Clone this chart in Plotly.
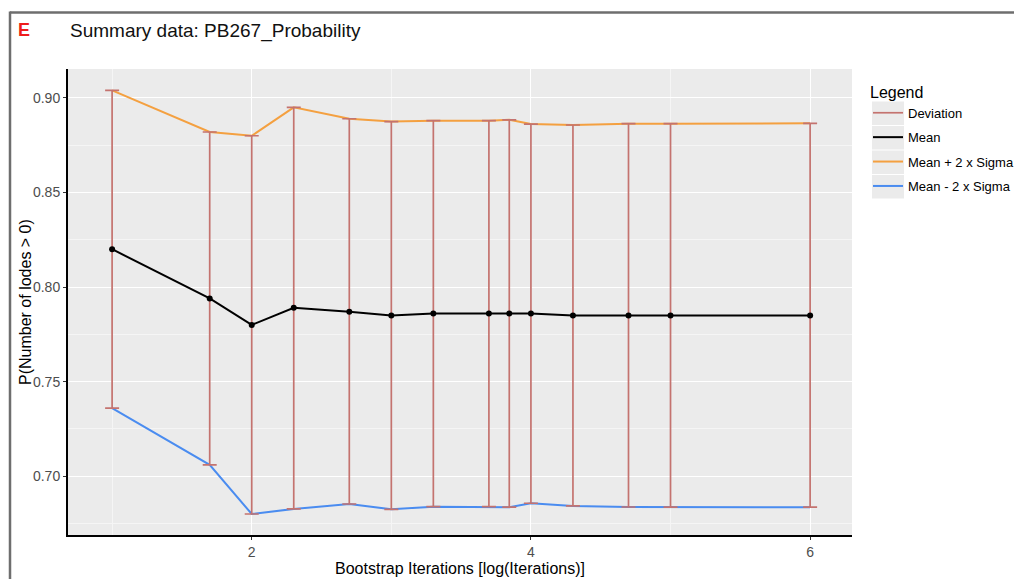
import plotly.graph_objects as go

# Bootstrap summary: x positions are log10(iterations)
log_iterations = [1.0, 1.699, 2.0, 2.301, 2.699, 3.0, 3.301, 3.699, 3.845, 4.0, 4.301, 4.699, 5.0, 6.0]
mean_prob = [0.820, 0.794, 0.780, 0.789, 0.787, 0.785, 0.786, 0.786, 0.786, 0.786, 0.785, 0.785, 0.785, 0.785]
upper_prob = [0.904, 0.882, 0.880, 0.895, 0.889, 0.8875, 0.888, 0.888, 0.8884, 0.8862, 0.8857, 0.8864, 0.8864, 0.8866]
lower_prob = [0.736, 0.706, 0.680, 0.6827, 0.6853, 0.6825, 0.6839, 0.6839, 0.6836, 0.6857, 0.6843, 0.6837, 0.6836, 0.6836]

x_tick_vals = [2, 4, 6]
y_tick_vals = [0.70, 0.75, 0.80, 0.85, 0.90]

DEV_COLOR = "#C4736F"
UPPER_COLOR = "#F4A040"
LOWER_COLOR = "#4A8CF0"
FONT = "Liberation Sans, Arial, sans-serif"

fig = go.Figure()

fig.add_trace(go.Scatter(
    x=log_iterations, y=upper_prob, mode="lines",
    line=dict(color=UPPER_COLOR, width=2),
    name="Mean + 2 x Sigma", legendrank=3, legendgroup="g3",
))
fig.add_trace(go.Scatter(
    x=log_iterations, y=lower_prob, mode="lines",
    line=dict(color=LOWER_COLOR, width=2),
    name="Mean - 2 x Sigma", legendrank=4, legendgroup="g4",
))

# deviation bars spanning lower to upper bound
fig.add_trace(go.Scatter(
    x=log_iterations, y=mean_prob, mode="markers",
    marker=dict(size=1, opacity=0),
    error_y=dict(
        type="data", symmetric=False,
        array=[u - m for u, m in zip(upper_prob, mean_prob)],
        arrayminus=[m - l for m, l in zip(mean_prob, lower_prob)],
        color=DEV_COLOR, thickness=1.7, width=7,
    ),
    showlegend=False, hoverinfo="skip",
))
fig.add_trace(go.Scatter(
    x=[None], y=[None], mode="lines",
    line=dict(color=DEV_COLOR, width=1.7),
    name="Deviation", legendrank=1, legendgroup="g1",
))

fig.add_trace(go.Scatter(
    x=log_iterations, y=mean_prob, mode="lines+markers",
    line=dict(color="black", width=2),
    marker=dict(color="black", size=6),
    showlegend=False,
))
fig.add_trace(go.Scatter(
    x=[None], y=[None], mode="lines",
    line=dict(color="black", width=2),
    name="Mean", legendrank=2, legendgroup="g2",
))

# paper coordinates of the figure frame (plot area spans 68..852 x 69..535 px)
L, R, T, B = 68, 852, 69, 535
def px_x(p):
    return (p - L) / (R - L)
def px_y(p):
    return (B - p) / (B - T)

shapes = [
    dict(type="line", xref="paper", yref="paper", x0=px_x(10), x1=px_x(1016),
         y0=px_y(12.5), y1=px_y(12.5), line=dict(color="#6E6E6E", width=2.5)),
    dict(type="line", xref="paper", yref="paper", x0=px_x(10), x1=px_x(10),
         y0=px_y(11.5), y1=px_y(582), line=dict(color="#6E6E6E", width=2.5)),
]
# grey legend key backgrounds
for i in range(4):
    top = 101.5 + i * 24.5
    shapes.append(dict(type="rect", xref="paper", yref="paper",
                       x0=px_x(872), x1=px_x(904), y0=px_y(top + 23.5), y1=px_y(top),
                       fillcolor="#EBEBEB", line=dict(width=0), layer="below"))

fig.update_layout(
    width=1014, height=579,
    margin=dict(l=L, r=1014 - R, t=T, b=579 - B, autoexpand=False),
    paper_bgcolor="white", plot_bgcolor="#EBEBEB",
    font=dict(family=FONT, color="black"),
    title=dict(text="Summary data: PB267_Probability", x=70 / 1014, xanchor="left",
               xref="container", y=1 - 30 / 579, yanchor="middle", yref="container",
               font=dict(size=19, color="#111111", family=FONT)),
    shapes=shapes,
    annotations=[
        dict(text="<b>E</b>", xref="paper", yref="paper", x=px_x(24), y=px_y(30),
             xanchor="center", yanchor="middle", showarrow=False,
             font=dict(size=18, color="#EE1C1C", family=FONT)),
        dict(text="P(Number of lodes > 0)", xref="paper", yref="paper",
             x=px_x(25), y=px_y(302), xanchor="center", yanchor="middle",
             textangle=-90, showarrow=False, font=dict(size=16, color="black", family=FONT)),
    ],
    legend=dict(
        title=dict(text="Legend", font=dict(size=16, color="black")),
        x=px_x(868), xanchor="left", y=px_y(77), yanchor="top",
        font=dict(size=13, color="black"), bgcolor="rgba(0,0,0,0)",
        itemwidth=30, tracegroupgap=4.5, traceorder="grouped",
    ),
    showlegend=True,
)

fig.update_xaxes(
    range=[0.684, 6.30], tickvals=x_tick_vals, ticktext=[str(v) for v in x_tick_vals],
    showgrid=True, gridcolor="white", gridwidth=1.3,
    minor=dict(tickvals=[1, 3, 5], showgrid=True, gridcolor="#F5F5F5", gridwidth=0.6, ticks=""),
    showline=True, linecolor="black", linewidth=2, zeroline=False,
    ticks="outside", ticklen=3, tickcolor="#333333", tickwidth=1,
    tickfont=dict(size=14, color="#4D4D4D"),
    title=dict(text="Bootstrap Iterations [log(Iterations)]", font=dict(size=16, color="black"), standoff=4),
)
fig.update_yaxes(
    range=[0.6689, 0.9153], tickvals=y_tick_vals, ticktext=[f"{v:.2f}" for v in y_tick_vals],
    showgrid=True, gridcolor="white", gridwidth=1.3,
    minor=dict(tickvals=[0.675, 0.725, 0.775, 0.825, 0.875], showgrid=True,
               gridcolor="#F5F5F5", gridwidth=0.6, ticks=""),
    showline=True, linecolor="black", linewidth=2, zeroline=False,
    ticks="outside", ticklen=3, tickcolor="#333333", tickwidth=1,
    tickfont=dict(size=14, color="#4D4D4D"),
)

fig.write_html("out.html")
